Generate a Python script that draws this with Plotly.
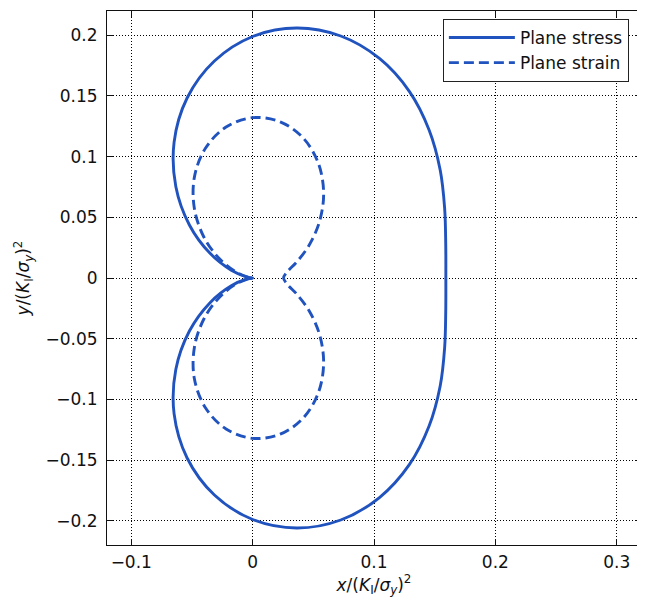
import plotly.graph_objects as go

# Plane stress plastic-zone boundary, closed loop starting/ending at crack tip
stress_x = [0.0, -0.0047, -0.0176, -0.0351, -0.0521, -0.0633, -0.0647, -0.0540, -0.0315, 0.0,
            0.0363, 0.0726, 0.1045, 0.1291, 0.1454, 0.1545, 0.1582, 0.1591, 0.1592,
            0.1591, 0.1582, 0.1545, 0.1454, 0.1291, 0.1045, 0.0726, 0.0363, 0.0,
            -0.0315, -0.0540, -0.0647, -0.0633, -0.0521, -0.0351, -0.0176, -0.0047, 0.0]
stress_y = [0.0, -0.0008, -0.0064, -0.0203, -0.0437, -0.0754, -0.1120, -0.1483, -0.1788, -0.1990,
            -0.2060, -0.1994, -0.1809, -0.1538, -0.1220, -0.0892, -0.0576, -0.0281, 0.0,
            0.0281, 0.0576, 0.0892, 0.1220, 0.1538, 0.1809, 0.1994, 0.2060, 0.1990,
            0.1788, 0.1483, 0.1120, 0.0754, 0.0437, 0.0203, 0.0064, 0.0008, 0.0]

# Plane strain plastic-zone boundary
strain_x = [0.0, -0.0037, -0.0138, -0.0273, -0.0401, -0.0480, -0.0480, -0.0389, -0.0219, 0.0,
            0.0227, 0.0419, 0.0543, 0.0585, 0.0550, 0.0464, 0.0363, 0.0284, 0.0255,
            0.0284, 0.0363, 0.0464, 0.0550, 0.0585, 0.0543, 0.0419, 0.0227, 0.0,
            -0.0219, -0.0389, -0.0480, -0.0480, -0.0401, -0.0273, -0.0138, -0.0037, 0.0]
strain_y = [0.0, -0.0007, -0.0050, -0.0158, -0.0336, -0.0572, -0.0831, -0.1069, -0.1244, -0.1321,
            -0.1287, -0.1151, -0.0941, -0.0697, -0.0462, -0.0268, -0.0132, -0.0050, 0.0,
            0.0050, 0.0132, 0.0268, 0.0462, 0.0697, 0.0941, 0.1151, 0.1287, 0.1321,
            0.1244, 0.1069, 0.0831, 0.0572, 0.0336, 0.0158, 0.0050, 0.0007, 0.0]

x_ticks = [-0.1, 0, 0.1, 0.2, 0.3]
y_ticks = [-0.2, -0.15, -0.1, -0.05, 0, 0.05, 0.1, 0.15, 0.2]

LINE = "#2153bf"
FONT = "DejaVu Sans"
TXT = "#111"

fig = go.Figure()
fig.add_trace(go.Scatter(x=stress_x, y=stress_y, mode="lines", name="Plane stress",
                         line=dict(color=LINE, width=2.9, shape="spline", smoothing=1)))
fig.add_trace(go.Scatter(x=strain_x, y=strain_y, mode="lines", name="Plane strain",
                         line=dict(color=LINE, width=2.9, shape="spline", smoothing=1, dash="10px,5px")))

axis_common = dict(
    showline=True, linecolor="#111", linewidth=1, mirror="ticks",
    ticks="inside", ticklen=6, tickcolor="#111", tickwidth=1,
    showgrid=True, gridcolor="#000", gridwidth=1, griddash="1px,2px",
    zeroline=False, tickfont=dict(family=FONT, size=17, color=TXT),
    automargin=False,
)

def fmt(v):
    return ("\u2212" if v < 0 else "") + f"{abs(v):g}"

fig.update_xaxes(range=[-0.12, 0.32], tickvals=x_ticks, ticktext=[fmt(v) for v in x_ticks],
                 ticklabelstandoff=2,
                 title=dict(text="<i>x</i>/(<i>K</i><sub>I</sub>/<i>σ</i><sub><i>y</i></sub>)<sup>2</sup>",
                            font=dict(family=FONT, size=17, color=TXT), standoff=0),
                 **axis_common)
fig.update_yaxes(range=[-0.22, 0.22], tickvals=y_ticks, ticktext=[fmt(v) for v in y_ticks],
                 ticklabelstandoff=5,
                 title=dict(text="<i>y</i>/(<i>K</i><sub>I</sub>/<i>σ</i><sub><i>y</i></sub>)<sup>2</sup>",
                            font=dict(family=FONT, size=17, color=TXT), standoff=11),
                 **axis_common)

# page body has an 8px margin, so the figure is offset by (8, 8)
fig.update_layout(
    width=637, height=593,
    margin=dict(l=99, r=4, t=3, b=56),
    paper_bgcolor="white", plot_bgcolor="white",
    showlegend=True,
    legend=dict(x=0.629, y=0.985, xanchor="left", yanchor="top",
                bgcolor="white", bordercolor="#222", borderwidth=1,
                font=dict(family=FONT, size=17, color=TXT),
                itemwidth=66, tracegroupgap=0),
)

fig.write_html("out.html")
